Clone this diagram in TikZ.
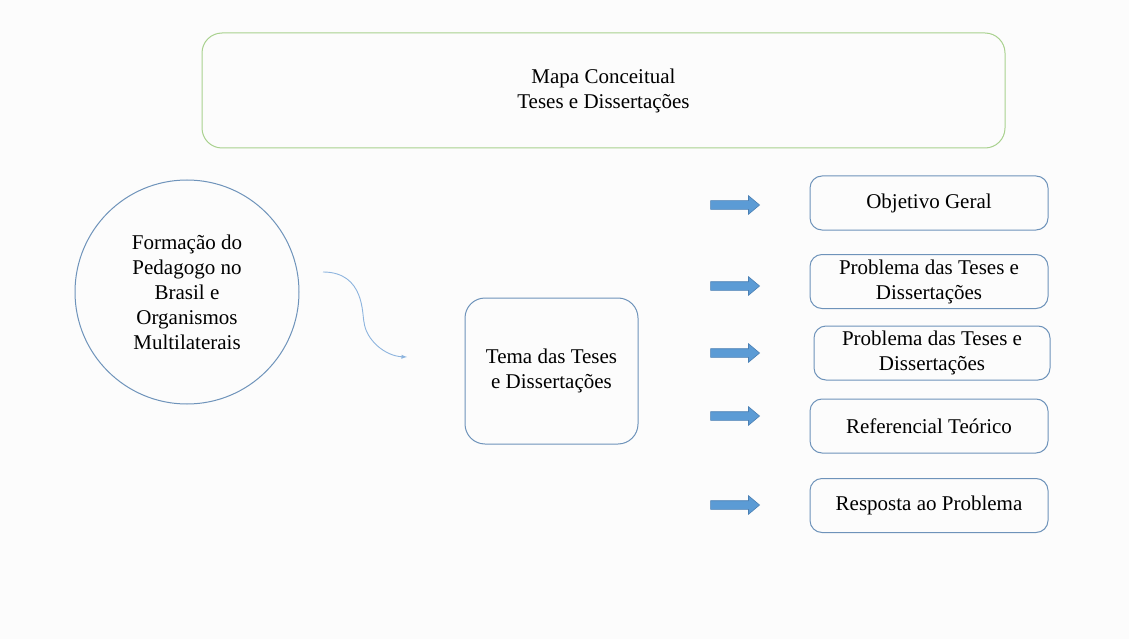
\documentclass[tikz,border=0pt]{standalone}
\usepackage{fontspec}
\setmainfont{Liberation Serif}
\usetikzlibrary{shapes.arrows}
\definecolor{mapgreen}{HTML}{A9D18E}
\definecolor{boxblue}{HTML}{6E93BA}
\definecolor{arrowblue}{HTML}{5B9BD5}
\definecolor{arrowedge}{HTML}{4A7FB3}
\definecolor{curveblue}{HTML}{8DB4DE}
\definecolor{paper}{HTML}{FCFCFC}

\begin{document}
\begin{tikzpicture}[x=1pt,y=-1pt,line width=1pt,
  font=\fontsize{21}{25}\selectfont,
  conceptbox/.style={draw=boxblue, rounded corners=12pt, align=center,
    minimum width=238pt, minimum height=54pt, inner sep=0pt},
  bluearrow/.style={single arrow, fill=arrowblue, draw=arrowedge, line width=0.6pt,
    minimum height=49pt, minimum width=18pt, inner sep=4pt,
    single arrow head extend=5pt, single arrow tip angle=80}
]
  % page and margins
  \fill[paper] (0,0) rectangle (1129,639);

  % title
  \node[
    draw=mapgreen,
    rounded corners=20pt,
    minimum width=803pt, minimum height=115pt,
    align=center
  ] (title) at (603.5,90.5) {Mapa Conceitual\\Teses e Dissertações};

  % left circle and theme
  \node[draw=boxblue, circle, minimum size=224pt, inner sep=0pt, align=center]
    (formacao) at (187,292) {Formação do\\Pedagogo no\\Brasil e\\Organismos\\Multilaterais};
  \node[draw=boxblue, rounded corners=20pt, minimum width=173pt, minimum height=146pt,
    align=center, inner sep=0pt] (tema) at (551.5,371) {Tema das Teses\\e Dissertações};

  \coordinate (cstart) at (323,272);
  \coordinate (cend) at (407,357);
  \draw[curveblue, line width=0.9pt, -latex] (cstart) .. controls (365,272) and (362,315) .. (364,322)
    .. controls (366,340) and (385,356) .. (cend);

  % right column
  \node[conceptbox] (objetivo) at (929,203) {Objetivo Geral};
  \node[conceptbox] (problemaA) at (929,281.5) {Problema das Teses e\\Dissertações};
  \node[conceptbox, minimum width=236pt] (problemaB) at (932,353) {Problema das Teses e\\Dissertações};
  \node[conceptbox] (referencial) at (929,426) {Referencial Teórico};
  \node[conceptbox] (resposta) at (929,505.5) {Resposta ao Problema};

  \node[bluearrow] (arrA) at (732.5,205) {};
  \node[bluearrow] (arrB) at (732.5,286) {};
  \node[bluearrow] (arrC) at (732.5,353) {};
  \node[bluearrow] (arrD) at (732.5,416) {};
  \node[bluearrow] (arrE) at (732.5,505) {};
\end{tikzpicture}
\end{document}
